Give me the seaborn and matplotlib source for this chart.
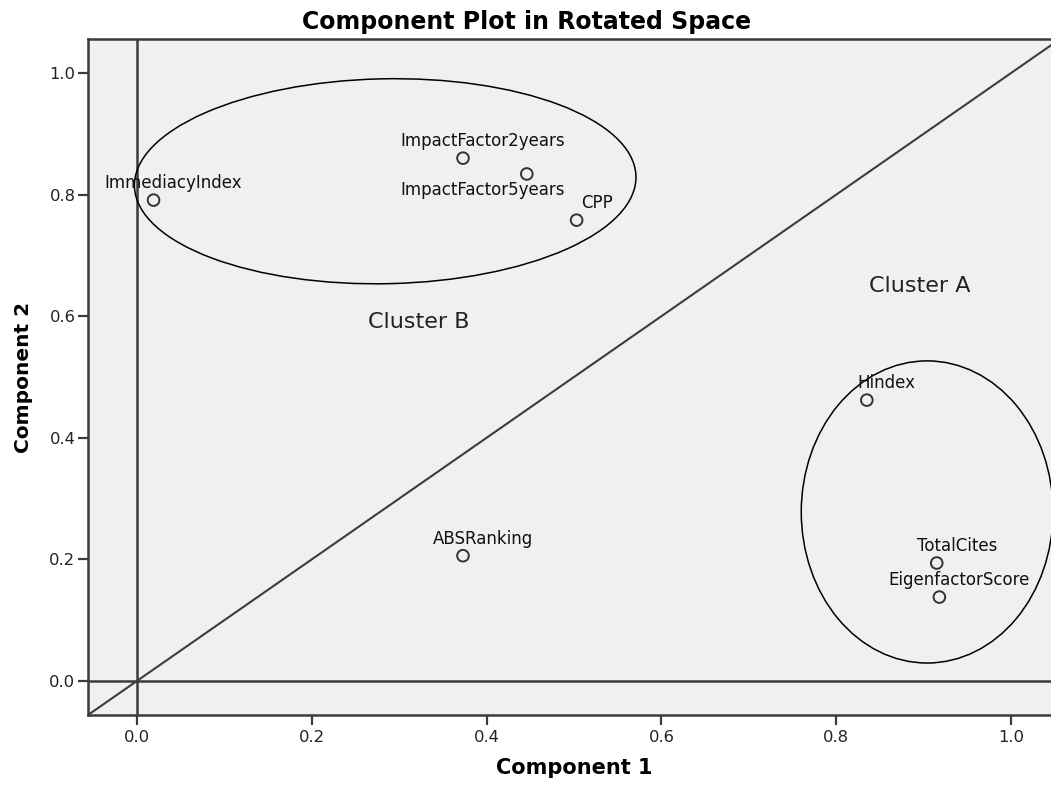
import matplotlib
matplotlib.use("Agg")
import matplotlib.pyplot as plt
from matplotlib.patches import Ellipse
import seaborn as sns
import pandas as pd

# ---- data ----
variables = ["ImmediacyIndex", "ImpactFactor2years", "ImpactFactor5years", "CPP",
             "Hindex", "TotalCites", "EigenfactorScore", "ABSRanking"]
component1 = [0.019, 0.373, 0.446, 0.503, 0.835, 0.915, 0.918, 0.373]
component2 = [0.791, 0.860, 0.834, 0.758, 0.462, 0.194, 0.138, 0.206]

cluster_names = ["Cluster B", "Cluster A"]
cluster_text_x = [0.322, 0.896]
cluster_text_y = [0.590, 0.650]
cluster_center_x = [0.284, 0.904]
cluster_center_y = [0.822, 0.278]
cluster_width = [0.574, 0.288]
cluster_height = [0.337, 0.497]
cluster_angle = [2.0, 0.0]

tick_values = [0.0, 0.2, 0.4, 0.6, 0.8, 1.0]
tick_labels = ["0.0", "0.2", "0.4", "0.6", "0.8", "1.0"]

# label offsets in pixels (dx, dy) relative to the point
label_offsets = {
    "ImpactFactor5years": (-44, -16),
}
default_offset = (20, 17)

df = pd.DataFrame({"variable": variables, "c1": component1, "c2": component2})

plt.rcParams["font.family"] = ["DejaVu Sans"]

W, H = 1051, 785
fig = plt.figure(figsize=(W / 100, H / 100), dpi=100)
ax = fig.add_axes([88 / W, 70 / H, (1060 - 88) / W, (715 - 39) / H])
ax.set_facecolor("#f0f0f0")

lo, hi = -0.056, 1.056
ax.set_xlim(lo, hi)
ax.set_ylim(lo, hi)

line_col = "#3c3c3c"
ax.axvline(0, color=line_col, lw=1.8, zorder=1)
ax.axhline(0, color=line_col, lw=1.8, zorder=1)
ax.plot([lo, hi], [lo, hi], color=line_col, lw=1.5, zorder=1)

for i in range(len(cluster_names)):
    e = Ellipse((cluster_center_x[i], cluster_center_y[i]), cluster_width[i], cluster_height[i],
                angle=cluster_angle[i], fill=False, edgecolor="black", lw=1.1, zorder=2)
    ax.add_patch(e)
    ax.text(cluster_text_x[i], cluster_text_y[i], cluster_names[i], fontsize=16,
            color="#222222", ha="center", va="center", zorder=3)

sns.scatterplot(data=df, x="c1", y="c2", ax=ax, s=70, marker="o",
                facecolor="none", edgecolor="#333333", linewidth=1.4, zorder=4, legend=False)

for v, x, y in zip(variables, component1, component2):
    dx, dy = label_offsets.get(v, default_offset)
    ax.annotate(v, (x, y), xytext=(dx, dy), textcoords="offset pixels",
                ha="center", va="center", fontsize=12, color="#111111", zorder=5)

ax.set_xticks(tick_values)
ax.set_xticklabels(tick_labels)
ax.set_yticks(tick_values)
ax.set_yticklabels(tick_labels)
ax.tick_params(axis="both", direction="out", length=7, width=1.6, color=line_col,
               labelsize=11.8, labelcolor="#222222")
ax.tick_params(axis="x", pad=4)
ax.tick_params(axis="y", pad=2)

for sp in ax.spines.values():
    sp.set_color(line_col)
    sp.set_linewidth(1.8)

ax.set_xlabel("Component 1", fontsize=15, fontweight="bold", labelpad=9)
ax.set_ylabel("Component 2", fontsize=14.5, fontweight="bold", labelpad=12)

fig.text(0.501, 1 - 29 / H, "Component Plot in Rotated Space", fontsize=17,
         fontweight="bold", ha="center", va="baseline")

fig.savefig("out.png", dpi=100)
